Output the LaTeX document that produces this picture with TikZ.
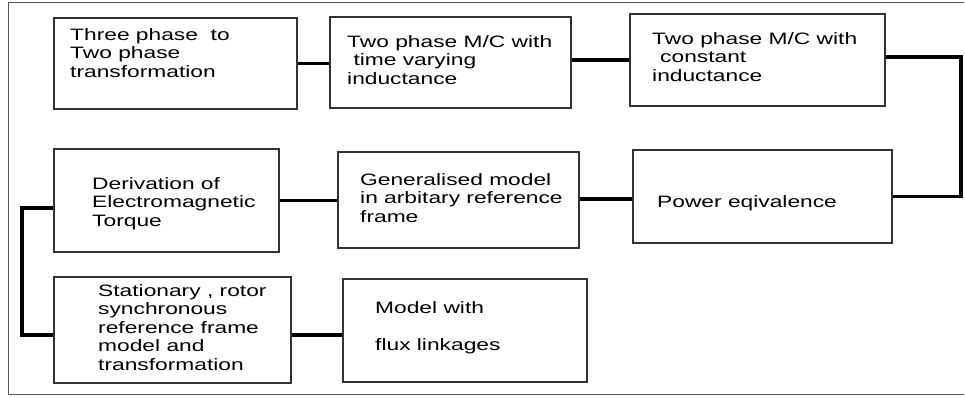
\documentclass[tikz,border=0pt]{standalone}
\usepackage{fontspec}
\setmainfont[FakeStretch=1.38]{Liberation Sans}
\usetikzlibrary{positioning}

\tikzset{
  blk/.style={draw=black!80, line width=1.1pt, rectangle, inner sep=0pt},
  txt/.style={anchor=north west, inner sep=0pt, align=left,
    font=\fontsize{16.5}{18.5}\selectfont},
  link/.style={line width=3.2pt, black}
}

\begin{document}
\begin{tikzpicture}[x=1pt, y=-1pt]
  \useasboundingbox (0,0) rectangle (965,398);
  \draw[black!65, line width=1pt] (964,3) -- (8,3) -- (8,394) -- (964,394);

  % blocks
  \node[blk, minimum width=243, minimum height=91]  (tpt)  at (175.5,63.5) {};
  \node[blk, minimum width=241, minimum height=91]  (tvar) at (450.5,62.5) {};
  \node[blk, minimum width=255, minimum height=92]  (cind) at (757.5,60)   {};
  \node[blk, minimum width=259, minimum height=93]  (pow)  at (762.5,196.5) {};
  \node[blk, minimum width=241, minimum height=96]  (gen)  at (458.5,200)  {};
  \node[blk, minimum width=225, minimum height=103] (torq) at (166.5,200.5) {};
  \node[blk, minimum width=237, minimum height=106] (stat) at (172.5,330)  {};
  \node[blk, minimum width=244, minimum height=103] (flux) at (465,330.5)  {};

  % texts
  \node[txt] (tpt txt)  at (70,28)  {Three phase~ to\\Two phase\\transformation};
  \node[txt] (tvar txt) at (347,35) {Two phase M/C with\\~time varying\\inductance};
  \node[txt] (cind txt) at (652,32) {Two phase M/C with\\\hspace*{8pt}constant\\inductance};
  \node[txt] (pow txt)  at (657,195) {Power eqivalence};
  \node[txt] (gen txt)  at (360,173) {Generalised model\\in arbitary reference\\frame};
  \node[txt] (torq txt) at (92,177)  {Derivation of\\Electromagnetic\\Torque};
  \node[txt] (stat txt) at (98,284)  {Stationary , rotor\\synchronous\\reference frame\\model and\\transformation};
  \node[txt] (flux txt) at (375,301) {Model with\\[18.5pt]flux linkages};

  % connectors
  \coordinate (rx) at (961,0);
  \coordinate (lx) at (22,0);
  \draw[link] (tpt.east) -- (tpt.east -| tvar.west);
  \draw[link] (tvar.east |- cind.west) -- (cind.west);
  \draw[link] ([yshift=3]cind.east) -| (rx |- pow.east) -- (pow.east);
  \draw[link] ([yshift=-2.5]pow.west) -- ([yshift=-2.5]pow.west -| gen.east);
  \draw[link] (gen.west |- torq.east) -- (torq.east);
  \draw[link] ([yshift=-7.5]torq.west) -| (lx |- stat.west) |- ([yshift=-5]stat.west);
  \draw[link] ([yshift=-5]stat.east) -- ([yshift=-5]stat.east -| flux.west);
\end{tikzpicture}
\end{document}
